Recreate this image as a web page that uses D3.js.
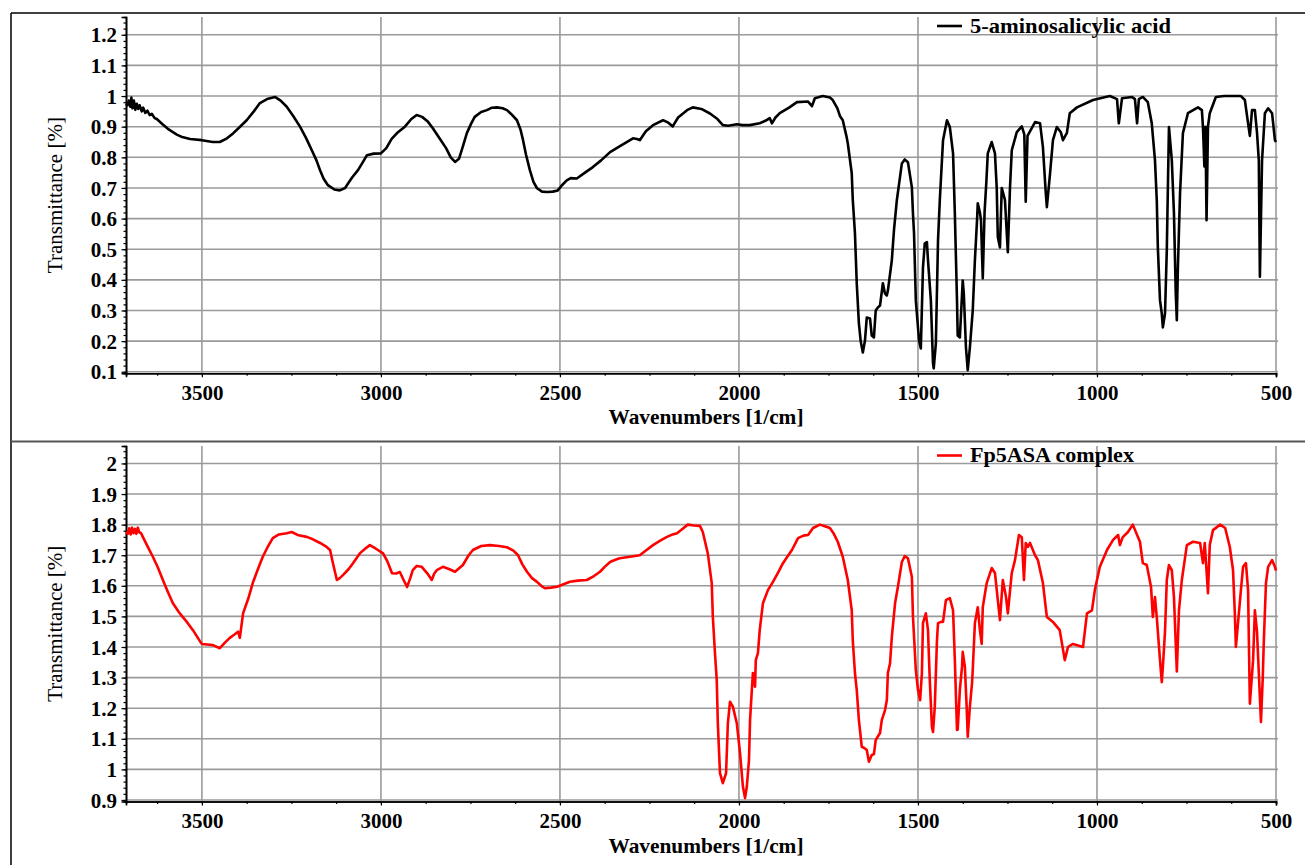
<!DOCTYPE html>
<html>
<head>
<meta charset="utf-8">
<script src="https://cdn.jsdelivr.net/npm/d3@7"></script>
<style>
  body { margin: 0; background: #fff; }
  svg { display: block; }
</style>
</head>
<body>
<div id="chart"></div>
<script>
// ---- data ----
const asaWave = [3712,3708,3704,3700,3697,3694,3690,3686,3682,3678,3674,3668,3664,3658,3652,3646,3640,3632,3626,3610,3595,3581,3570,3555,3533,3500,3470,3450,3430,3413,3395,3375,3355,3338,3318,3296,3280,3263,3245,3226,3210,3193,3180,3170,3160,3148,3130,3115,3100,3090,3080,3064,3050,3039,3020,3000,2985,2970,2955,2933,2915,2900,2885,2870,2855,2835,2818,2805,2793,2782,2770,2760,2748,2738,2720,2704,2690,2676,2660,2648,2635,2620,2610,2603,2595,2584,2574,2564,2550,2536,2520,2506,2495,2481,2470,2453,2430,2408,2385,2360,2330,2310,2296,2285,2277,2260,2240,2212,2200,2185,2170,2145,2129,2105,2081,2060,2045,2030,2006,1990,1970,1942,1925,1914,1908,1898,1886,1860,1838,1807,1796,1788,1766,1746,1738,1725,1718,1710,1700,1696,1685,1682,1676,1671,1665,1660,1654,1648,1643,1634,1629,1623,1618,1612,1606,1598,1592,1587,1584,1573,1567,1559,1552,1545,1537,1528,1517,1514,1511,1506,1497,1492,1486,1481,1475,1472,1464,1458,1456,1450,1444,1439,1430,1419,1411,1402,1397,1391,1389,1383,1375,1372,1366,1361,1355,1347,1341,1335,1333,1327,1324,1319,1314,1309,1305,1294,1285,1280,1277,1271,1266,1257,1249,1243,1238,1224,1210,1203,1199,1194,1173,1159,1151,1143,1140,1131,1123,1112,1101,1095,1084,1076,1056,1011,964,944,939,930,902,894,888,883,872,858,847,838,833,830,824,819,816,810,805,802,799,791,785,780,777,774,768,760,746,718,707,704,700,697,694,690,685,668,645,598,587,578,573,567,559,553,548,545,542,539,531,522,511,503,500];
const asaT = [0.975,0.97,0.985,0.965,0.995,0.96,0.985,0.955,0.975,0.958,0.97,0.95,0.962,0.945,0.952,0.938,0.942,0.928,0.925,0.908,0.893,0.882,0.874,0.866,0.86,0.856,0.85,0.85,0.862,0.878,0.898,0.921,0.95,0.977,0.99,0.997,0.985,0.965,0.935,0.9,0.865,0.823,0.79,0.758,0.73,0.709,0.695,0.692,0.7,0.718,0.735,0.758,0.785,0.807,0.812,0.813,0.83,0.86,0.879,0.9,0.925,0.938,0.932,0.918,0.895,0.86,0.83,0.8,0.785,0.795,0.84,0.879,0.91,0.932,0.948,0.954,0.962,0.963,0.96,0.954,0.94,0.921,0.89,0.856,0.81,0.758,0.72,0.699,0.688,0.687,0.688,0.692,0.708,0.725,0.732,0.731,0.75,0.768,0.79,0.817,0.838,0.852,0.862,0.86,0.856,0.885,0.905,0.921,0.915,0.901,0.93,0.954,0.963,0.958,0.943,0.925,0.905,0.903,0.908,0.905,0.905,0.911,0.92,0.928,0.911,0.93,0.944,0.962,0.98,0.982,0.967,0.993,1.0,0.995,0.987,0.96,0.935,0.921,0.87,0.846,0.748,0.66,0.552,0.389,0.258,0.2,0.163,0.202,0.277,0.274,0.218,0.212,0.3,0.31,0.316,0.389,0.355,0.349,0.365,0.464,0.562,0.66,0.72,0.78,0.793,0.784,0.702,0.617,0.552,0.333,0.202,0.176,0.441,0.519,0.523,0.464,0.333,0.128,0.111,0.193,0.529,0.66,0.856,0.921,0.899,0.813,0.617,0.333,0.218,0.212,0.398,0.356,0.18,0.105,0.18,0.3,0.464,0.595,0.65,0.62,0.595,0.405,0.62,0.72,0.813,0.85,0.813,0.7,0.54,0.506,0.7,0.66,0.49,0.7,0.823,0.882,0.901,0.875,0.655,0.87,0.915,0.911,0.833,0.683,0.637,0.748,0.856,0.899,0.882,0.856,0.88,0.944,0.963,0.987,1.0,0.99,0.911,0.993,0.997,0.99,0.911,0.99,0.997,0.98,0.911,0.79,0.66,0.506,0.333,0.29,0.245,0.29,0.497,0.7,0.899,0.79,0.617,0.356,0.268,0.441,0.683,0.879,0.944,0.963,0.954,0.899,0.77,0.9,0.595,0.9,0.944,0.997,1.0,1.0,0.987,0.911,0.87,0.954,0.954,0.88,0.79,0.41,0.6,0.79,0.944,0.96,0.944,0.856,0.85];

const complexWave = [3712,3707,3703,3699,3695,3691,3687,3683,3679,3675,3670,3665,3650,3637,3623,3609,3595,3581,3565,3555,3542,3525,3506,3500,3485,3469,3450,3435,3422,3410,3399,3394,3385,3370,3358,3345,3330,3315,3302,3285,3263,3249,3230,3207,3190,3170,3155,3142,3134,3123,3115,3106,3090,3078,3059,3045,3031,3015,2994,2982,2969,2958,2947,2937,2927,2918,2911,2900,2886,2870,2858,2851,2844,2827,2810,2793,2771,2755,2743,2720,2696,2670,2648,2630,2617,2605,2592,2578,2564,2550,2542,2525,2508,2490,2472,2450,2425,2405,2388,2375,2360,2345,2333,2300,2277,2258,2240,2220,2201,2185,2173,2158,2143,2125,2109,2101,2087,2076,2073,2067,2062,2059,2053,2045,2036,2031,2025,2017,2006,1997,1989,1983,1978,1972,1969,1964,1961,1955,1953,1947,1942,1933,1919,1905,1890,1877,1865,1852,1835,1820,1807,1793,1774,1760,1746,1735,1724,1710,1696,1685,1682,1676,1671,1665,1657,1650,1643,1637,1629,1623,1618,1606,1601,1592,1587,1584,1578,1573,1564,1556,1545,1537,1528,1517,1514,1506,1500,1494,1489,1486,1478,1472,1467,1461,1458,1453,1447,1444,1436,1430,1422,1411,1402,1397,1391,1389,1383,1377,1375,1369,1364,1361,1355,1349,1347,1341,1333,1327,1322,1319,1308,1294,1285,1277,1271,1263,1254,1249,1238,1229,1218,1210,1204,1199,1193,1187,1173,1165,1151,1140,1123,1104,1090,1081,1067,1039,1028,1014,1006,992,972,955,941,936,928,914,900,888,880,872,861,849,844,838,833,824,819,816,810,805,799,791,785,777,771,763,749,732,712,704,699,690,685,676,656,642,629,620,615,612,606,598,592,584,578,573,564,559,553,548,542,537,534,528,522,511,503,500];
const complexT = [1.776,1.77,1.788,1.768,1.79,1.772,1.786,1.77,1.79,1.775,1.772,1.76,1.725,1.695,1.66,1.619,1.58,1.543,1.515,1.5,1.482,1.455,1.42,1.41,1.408,1.406,1.396,1.415,1.43,1.44,1.45,1.43,1.51,1.56,1.609,1.65,1.695,1.73,1.756,1.768,1.772,1.776,1.765,1.76,1.752,1.74,1.73,1.717,1.674,1.619,1.625,1.635,1.655,1.674,1.706,1.72,1.733,1.722,1.706,1.68,1.641,1.64,1.645,1.62,1.596,1.625,1.651,1.665,1.662,1.64,1.619,1.64,1.651,1.662,1.655,1.646,1.668,1.7,1.717,1.73,1.733,1.73,1.726,1.715,1.7,1.67,1.646,1.625,1.613,1.598,1.592,1.594,1.597,1.605,1.613,1.617,1.619,1.632,1.646,1.662,1.678,1.685,1.69,1.696,1.7,1.717,1.733,1.748,1.76,1.768,1.772,1.786,1.8,1.797,1.796,1.776,1.706,1.609,1.5,1.38,1.292,1.151,0.988,0.955,0.988,1.15,1.221,1.205,1.151,1.053,0.944,0.906,0.944,1.03,1.161,1.26,1.315,1.27,1.357,1.38,1.455,1.543,1.586,1.613,1.645,1.674,1.695,1.717,1.756,1.764,1.766,1.789,1.8,1.795,1.789,1.77,1.744,1.695,1.619,1.52,1.42,1.315,1.26,1.161,1.074,1.07,1.063,1.025,1.047,1.05,1.096,1.119,1.161,1.194,1.226,1.315,1.347,1.433,1.543,1.597,1.678,1.697,1.69,1.629,1.5,1.325,1.26,1.226,1.315,1.478,1.51,1.455,1.292,1.139,1.122,1.205,1.42,1.478,1.482,1.482,1.553,1.56,1.52,1.357,1.129,1.13,1.26,1.335,1.384,1.335,1.205,1.107,1.205,1.282,1.325,1.478,1.53,1.455,1.41,1.53,1.609,1.658,1.642,1.553,1.488,1.619,1.563,1.51,1.642,1.684,1.766,1.759,1.619,1.74,1.727,1.74,1.7,1.684,1.609,1.498,1.482,1.455,1.357,1.4,1.41,1.4,1.51,1.52,1.586,1.662,1.717,1.75,1.766,1.733,1.759,1.775,1.8,1.766,1.744,1.674,1.668,1.596,1.498,1.563,1.498,1.357,1.285,1.335,1.45,1.619,1.668,1.651,1.563,1.32,1.52,1.619,1.733,1.744,1.74,1.674,1.74,1.576,1.733,1.782,1.8,1.789,1.727,1.651,1.51,1.4,1.48,1.586,1.662,1.674,1.586,1.215,1.357,1.52,1.45,1.315,1.155,1.3,1.42,1.609,1.662,1.684,1.662,1.65];

const xTicks = [3500, 3000, 2500, 2000, 1500, 1000, 500];
const topYTicks = [0.1, 0.2, 0.3, 0.4, 0.5, 0.6, 0.7, 0.8, 0.9, 1, 1.1, 1.2];
const bottomYTicks = [0.9, 1, 1.1, 1.2, 1.3, 1.4, 1.5, 1.6, 1.7, 1.8, 1.9, 2];

const W = 1305, H = 865;
const svg = d3.select("#chart").append("svg")
  .attr("width", W)
  .attr("height", H)
  .style("font-family", "'Liberation Serif', 'Times New Roman', serif");

const left = 126, right = 1276;
const x = d3.scaleLinear().domain([3712, 500]).range([left, right]);
const fmt = d3.format(".1~f");

// outer frames
svg.append("line").attr("x1", 11).attr("x2", 11).attr("y1", 13).attr("y2", H)
  .attr("stroke", "#000").attr("stroke-width", 1.5);
svg.append("line").attr("x1", 11).attr("x2", W).attr("y1", 13).attr("y2", 13)
  .attr("stroke", "#000").attr("stroke-width", 1.5);
svg.append("line").attr("x1", 11).attr("x2", W).attr("y1", 441.5).attr("y2", 441.5)
  .attr("stroke", "#555").attr("stroke-width", 2);

function drawPanel(p) {
  const y = d3.scaleLinear().domain(p.yDomain).range([p.bottom, p.top]);
  const g = svg.append("g");

  // grid
  g.selectAll(".hgrid").data(p.yTicks).join("line")
    .attr("x1", left).attr("x2", right + 2)
    .attr("y1", d => y(d)).attr("y2", d => y(d))
    .attr("stroke", "#9a9a9a").attr("stroke-width", 1.6);
  g.selectAll(".vgrid").data(xTicks).join("line")
    .attr("x1", d => x(d)).attr("x2", d => x(d))
    .attr("y1", p.top).attr("y2", p.bottom)
    .attr("stroke", "#9a9a9a").attr("stroke-width", 1.6);

  // x axis
  const xAxis = g.append("g").attr("transform", `translate(0,${p.bottom})`);
  xAxis.call(d3.axisBottom(x).tickValues(d3.range(3625, 499, -125)).tickSize(2.5).tickFormat(""));
  xAxis.append("g").call(d3.axisBottom(x).tickValues(xTicks).tickSize(4).tickFormat(d3.format("d")));
  xAxis.selectAll(".domain").attr("stroke", "#000").attr("stroke-width", 1.6);
  xAxis.selectAll("line").attr("stroke", "#000").attr("stroke-width", 1.2);
  xAxis.selectAll("text").attr("font-size", 21).attr("font-weight", "bold")
    .attr("font-family", "'Liberation Serif', serif").attr("fill", "#000")
    .attr("y", p.xTickLabelY - p.bottom).attr("dy", 0);

  // y axis
  const minor = d3.range(Math.ceil(p.yDomain[0] * 50), Math.floor(p.yDomain[1] * 50) + 1).map(d => d / 50);
  const yAxis = g.append("g").attr("transform", `translate(${left},0)`);
  yAxis.call(d3.axisLeft(y).tickValues(minor).tickSize(2.5).tickFormat(""));
  yAxis.append("g").call(d3.axisLeft(y).tickValues(p.yTicks).tickSize(4.5).tickFormat(fmt));
  yAxis.selectAll(".domain").attr("stroke", "#000").attr("stroke-width", 1.6);
  yAxis.selectAll("line").attr("stroke", "#000").attr("stroke-width", 1.2);
  yAxis.selectAll("text").attr("font-size", 21).attr("font-weight", "bold")
    .attr("font-family", "'Liberation Serif', serif").attr("fill", "#000")
    .attr("x", -9).attr("dy", "0.34em");

  // axis titles
  g.append("text")
    .attr("x", 706).attr("y", p.xTitleY)
    .attr("text-anchor", "middle")
    .attr("font-size", 21).attr("font-weight", "bold")
    .attr("textLength", 195).attr("lengthAdjust", "spacingAndGlyphs")
    .text("Wavenumbers [1/cm]");
  g.append("text")
    .attr("transform", `translate(62,${(p.top + p.bottom) / 2}) rotate(-90)`)
    .attr("text-anchor", "middle")
    .attr("font-size", 21)
    .text("Transmittance [%]");

  // spectrum
  const pts = p.wave.map((w, i) => [w, p.values[i]]);
  g.append("path")
    .datum(pts)
    .attr("fill", "none")
    .attr("stroke", p.color)
    .attr("stroke-width", 2.6)
    .attr("stroke-linejoin", "round")
    .attr("d", d3.line().x(d => x(d[0])).y(d => y(d[1])));

  // legend
  g.append("line")
    .attr("x1", 937).attr("x2", 962)
    .attr("y1", p.legendY).attr("y2", p.legendY)
    .attr("stroke", p.color).attr("stroke-width", 2.6);
  g.append("text")
    .attr("x", 970).attr("y", p.legendY + 6.5)
    .attr("font-size", 21).attr("font-weight", "bold")
    .attr("textLength", p.legendLen).attr("lengthAdjust", "spacingAndGlyphs")
    .text(p.label);
}

drawPanel({
  top: 17, bottom: 373.3, yDomain: [0.095, 1.258], yTicks: topYTicks,
  wave: asaWave, values: asaT, color: "#000",
  xTickLabelY: 400, xTitleY: 423.5,
  legendY: 26, label: "5-aminosalicylic acid", legendLen: 201
});
drawPanel({
  top: 446, bottom: 801.5, yDomain: [0.895, 2.057], yTicks: bottomYTicks,
  wave: complexWave, values: complexT, color: "#ff0000",
  xTickLabelY: 828, xTitleY: 853,
  legendY: 455.5, label: "Fp5ASA complex", legendLen: 164
});
</script>
</body>
</html>
